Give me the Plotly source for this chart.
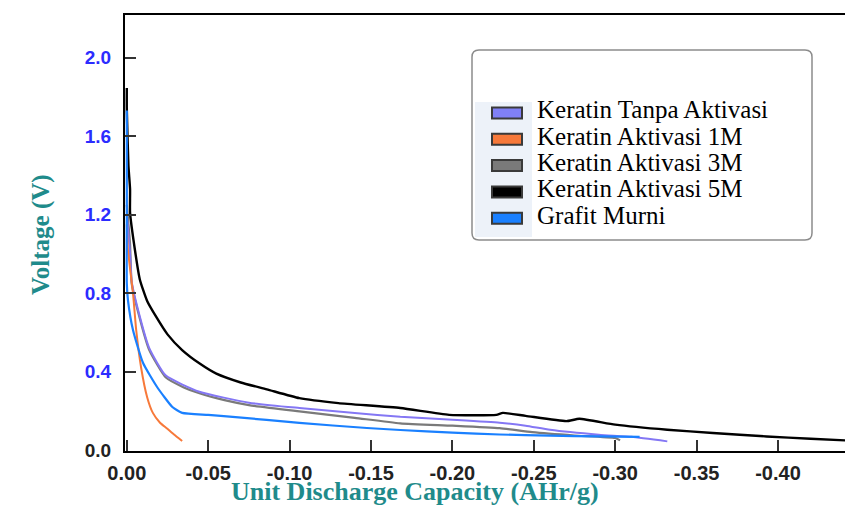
import plotly.graph_objects as go

# ---------------- data ----------------
black_x = [0, 0, -0.001, -0.002, -0.002, -0.005, -0.008, -0.0125, -0.018, -0.025, -0.034, -0.045, -0.055,
           -0.07, -0.086, -0.106, -0.13, -0.168, -0.198, -0.227, -0.231, -0.245, -0.27, -0.278, -0.30,
           -0.332, -0.36, -0.393, -0.42, -0.446]
black_y = [1.845, 1.74, 1.45, 1.33, 1.21, 1.02, 0.87, 0.76, 0.68, 0.59, 0.51, 0.44, 0.39,
           0.345, 0.31, 0.265, 0.24, 0.215, 0.18, 0.18, 0.19, 0.175, 0.148, 0.16, 0.13,
           0.104, 0.088, 0.07, 0.058, 0.048]

gray_x = [0, -0.002, -0.003, -0.0077, -0.0138, -0.024, -0.035, -0.0446, -0.06, -0.075, -0.106, -0.14,
          -0.168, -0.2, -0.229, -0.249, -0.275, -0.30, -0.303]
gray_y = [1.25, 1.05, 0.85, 0.68, 0.51, 0.37, 0.32, 0.29, 0.255, 0.23, 0.198, 0.165,
          0.137, 0.125, 0.112, 0.092, 0.075, 0.062, 0.05]

purple_x = [0, -0.002, -0.003, -0.0077, -0.0138, -0.024, -0.0446, -0.075, -0.106, -0.14, -0.168, -0.2,
            -0.229, -0.245, -0.26, -0.29, -0.31, -0.332]
purple_y = [1.2, 1.0, 0.86, 0.69, 0.52, 0.38, 0.298, 0.242, 0.215, 0.19, 0.17, 0.155,
            0.14, 0.125, 0.104, 0.079, 0.068, 0.045]

orange_x = [0, -0.0007, -0.0038, -0.0058, -0.0088, -0.0125, -0.016, -0.0204, -0.0245, -0.029, -0.034]
orange_y = [1.15, 1.02, 0.80, 0.61, 0.42, 0.27, 0.19, 0.14, 0.112, 0.08, 0.047]

blue_x = [0, 0, 0, -0.0007, -0.0038, -0.01, -0.0186, -0.028, -0.034, -0.05, -0.065, -0.106, -0.1475,
          -0.168, -0.2, -0.229, -0.26, -0.29, -0.315]
blue_y = [1.73, 1.2, 0.85, 0.765, 0.612, 0.444, 0.322, 0.22, 0.19, 0.18, 0.17, 0.139, 0.113,
          0.103, 0.09, 0.08, 0.074, 0.07, 0.068]

legend_names = ["Keratin Tanpa Aktivasi", "Keratin Aktivasi 1M", "Keratin Aktivasi 3M",
                "Keratin Aktivasi 5M", "Grafit Murni"]
legend_colors = ["#8080f6", "#f7793a", "#7a7a7a", "#000000", "#1a80ff"]

x_tickvals = [0, -0.05, -0.10, -0.15, -0.20, -0.25, -0.30, -0.35, -0.40]
x_ticktext = ["0.00", "-0.05", "-0.10", "-0.15", "-0.20", "-0.25", "-0.30", "-0.35", "-0.40"]
y_tickvals = [0.0, 0.4, 0.8, 1.2, 1.6, 2.0]
y_ticktext = ["<span style='color:#222222'>0.0</span>", "0.4", "0.8", "1.2", "1.6", "2.0"]

# ---------------- figure ----------------
# the page body has an 8px margin, so the figure is sized/positioned to fill 853x508 screen px
OFF = 8
W, H = 853 - OFF, 508 - OFF
SCR_L, SCR_T, SCR_B = 125, 15, 451          # plot area edges in screen px
ML, MR, MT, MB = SCR_L - OFF, 0, SCR_T - OFF, H - (SCR_B - OFF)
PW, PH = W - ML - MR, H - MT - MB


def px2paper_x(px):
    return (px - OFF - ML) / PW


def px2paper_y(py):
    return (H - MB - (py - OFF)) / PH


fig = go.Figure()
series = [
    (black_x, black_y, "#000000", 2.4, legend_names[3]),
    (gray_x, gray_y, "#7a7a7a", 2.2, legend_names[2]),
    (purple_x, purple_y, "#8477f4", 2.0, legend_names[0]),
    (orange_x, orange_y, "#f7793a", 2.0, legend_names[1]),
    (blue_x, blue_y, "#1a80ff", 2.2, legend_names[4]),
]
for xs, ys, c, w, n in series:
    fig.add_trace(go.Scatter(x=xs, y=ys, mode="lines",
                             line=dict(color=c, width=w, shape="spline", smoothing=0.5),
                             name=n, showlegend=False))

shapes = []
annotations = []

# legend box
bx0, bx1, by0, by1 = px2paper_x(472), px2paper_x(812), px2paper_y(50), px2paper_y(240)
rx, ry = 7 / PW, 7 / PH
path = (f"M {bx0+rx},{by0} L {bx1-rx},{by0} Q {bx1},{by0} {bx1},{by0-ry} "
        f"L {bx1},{by1+ry} Q {bx1},{by1} {bx1-rx},{by1} L {bx0+rx},{by1} "
        f"Q {bx0},{by1} {bx0},{by1+ry} L {bx0},{by0-ry} Q {bx0},{by0} {bx0+rx},{by0} Z")
shapes.append(dict(type="path", xref="paper", yref="paper", path=path,
                   line=dict(color="#8c8c8c", width=1.5), fillcolor="white", layer="above"))
shapes.append(dict(type="rect", xref="paper", yref="paper",
                   x0=px2paper_x(475), x1=px2paper_x(532), y0=px2paper_y(102), y1=px2paper_y(237),
                   line=dict(width=0), fillcolor="#edf2f9", layer="above"))

for i, (name, col) in enumerate(zip(legend_names, legend_colors)):
    cy = 113 + i * 26.3
    shapes.append(dict(type="rect", xref="paper", yref="paper",
                       x0=px2paper_x(492), x1=px2paper_x(522),
                       y0=px2paper_y(cy - 5.5), y1=px2paper_y(cy + 5.5),
                       fillcolor=col, line=dict(color="#3a3a3a", width=2), layer="above"))
    annotations.append(dict(xref="paper", yref="paper", x=px2paper_x(535), y=px2paper_y(cy - 3),
                            xanchor="left", yanchor="middle", showarrow=False, text=name,
                            font=dict(family="Liberation Serif, Times New Roman, serif",
                                      size=25, color="#000000")))

# axis titles
annotations.append(dict(xref="paper", yref="paper", x=px2paper_x(415), y=px2paper_y(508),
                        xanchor="center", yanchor="bottom", showarrow=False,
                        text="Unit Discharge Capacity (AHr/g)",
                        font=dict(family="Liberation Serif, Times New Roman, serif", size=26,
                                  color="#1f8b8b", weight="bold")))
annotations.append(dict(xref="paper", yref="paper", x=px2paper_x(41), y=px2paper_y(235),
                        xanchor="center", yanchor="middle", showarrow=False, textangle=-90,
                        text="Voltage (V)",
                        font=dict(family="Liberation Serif, Times New Roman, serif", size=25,
                                  color="#1f8b8b", weight="bold")))

fig.update_layout(
    width=W, height=H,
    margin=dict(l=ML, r=MR, t=MT, b=MB, pad=0, autoexpand=False),
    paper_bgcolor="white", plot_bgcolor="white",
    showlegend=False,
    shapes=shapes, annotations=annotations,
    xaxis=dict(range=[(126.8 - SCR_L) / 1628, -(853 - 126.8) / 1628],
               tickvals=x_tickvals, ticktext=x_ticktext, automargin=False,
               showline=True, linecolor="#000000", linewidth=2, mirror=True,
               ticks="inside", ticklen=11, tickwidth=1.5, tickcolor="#333333",
               showgrid=False, zeroline=False, ticklabelstandoff=3,
               tickfont=dict(family="Liberation Sans, Arial, sans-serif", size=20,
                             color="#222222", weight="bold")),
    yaxis=dict(range=[-(SCR_B - 450.2) / 196.3, (450.2 - SCR_T) / 196.3],
               tickvals=y_tickvals, ticktext=y_ticktext, automargin=False,
               showline=True, linecolor="#000000", linewidth=2, mirror=False,
               ticks="inside", ticklen=11, tickwidth=1.5, tickcolor="#333333",
               showgrid=False, zeroline=False, ticklabelstandoff=8,
               tickfont=dict(family="Liberation Sans, Arial, sans-serif", size=19,
                             color="#2c2cff", weight="bold")),
)

fig.write_html("out.html")
